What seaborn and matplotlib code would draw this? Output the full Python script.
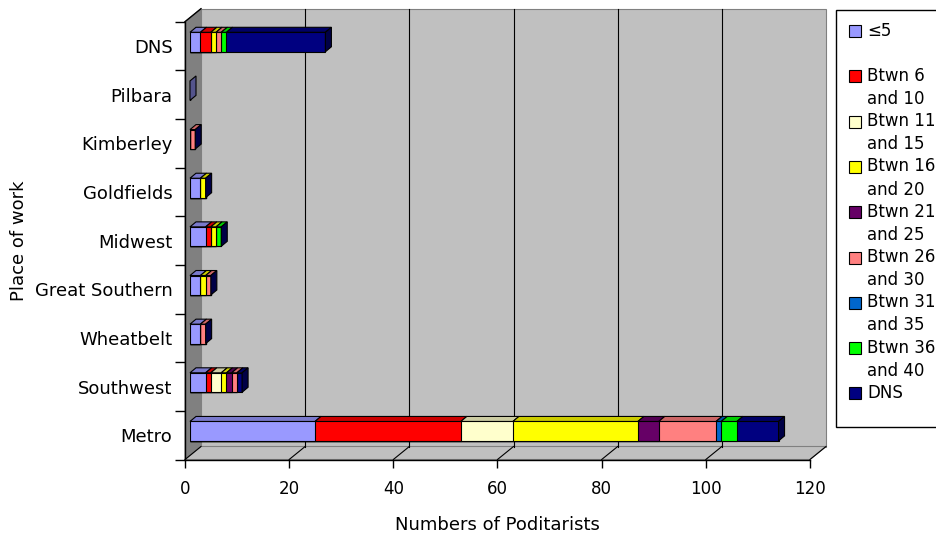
import numpy as np
import pandas as pd
import matplotlib
matplotlib.use("Agg")
import matplotlib.pyplot as plt
import seaborn as sns
from matplotlib.patches import Polygon, Rectangle
from matplotlib.transforms import IdentityTransform
from matplotlib.colors import to_rgb

# ---------------- data ----------------
places = ["DNS", "Pilbara", "Kimberley", "Goldfields", "Midwest",
          "Great Southern", "Wheatbelt", "Southwest", "Metro"]
series = ["≤5", "Btwn 6\nand 10", "Btwn 11\nand 15", "Btwn 16\nand 20",
          "Btwn 21\nand 25", "Btwn 26\nand 30", "Btwn 31\nand 35",
          "Btwn 36\nand 40", "DNS"]
le5    = [2, 0, 0, 2, 3, 2, 2, 3, 24]
b6_10  = [2, 0, 0, 0, 1, 0, 0, 1, 28]
b11_15 = [0, 0, 0, 0, 0, 0, 0, 2, 10]
b16_20 = [1, 0, 0, 1, 1, 1, 0, 1, 24]
b21_25 = [0, 0, 0, 0, 0, 0, 0, 1, 4]
b26_30 = [1, 0, 1, 0, 0, 1, 1, 1, 11]
b31_35 = [0, 0, 0, 0, 0, 0, 0, 0, 1]
b36_40 = [1, 0, 0, 0, 1, 0, 0, 0, 3]
dns    = [19, 0, 0, 0, 0, 0, 0, 1, 8]
colors = ["#9999FF", "#FF0000", "#FFFFCC", "#FFFF00", "#660066",
          "#FF8080", "#0066CC", "#00FF00", "#000080"]
xticks = [0, 20, 40, 60, 80, 100, 120]

vals = np.array([le5, b6_10, b11_15, b16_20, b21_25, b26_30, b31_35, b36_40, dns], dtype=float)
cum = np.cumsum(vals, axis=0)

plt.rcParams["font.family"] = ["DejaVu Sans"]
FS = 12
FSL = 13
W, H = 936, 537
fig = plt.figure(figsize=(W / 100, H / 100), dpi=100)
ID = IdentityTransform()

def disp(x, y):  # pixel (top-left origin) -> display
    return (x, H - y)

def shade(c, f):
    return tuple(np.array(to_rgb(c)) * f)

# front plane axes (axis lines, ticks, labels, walls)
FL, FR, FT, FB = 185, 810, 21.7, 459.5
axf = fig.add_axes([FL / W, (H - FB) / H, (FR - FL) / W, (FB - FT) / H])
axf.set_xlim(0, 120)
axf.set_ylim(8.5, -0.5)
axf.patch.set_visible(False)
for s in ["top", "right"]:
    axf.spines[s].set_visible(False)
for s in ["left", "bottom"]:
    axf.spines[s].set_linewidth(1)
    axf.spines[s].set_color("black")
axf.set_xticks(xticks, labels=[str(t) for t in xticks], fontsize=FS)
axf.set_yticks(np.arange(-0.5, 9, 1), labels=[])
axf.set_yticks(np.arange(len(places)), labels=places, minor=True, fontsize=FSL)
axf.tick_params(axis="x", direction="out", length=6, width=1, pad=9, colors="black")
axf.tick_params(axis="y", which="major", direction="out", length=7, width=1)
axf.tick_params(axis="y", which="minor", length=0, pad=9)
axf.set_xlabel("Numbers of Poditarists", fontsize=FSL)
axf.set_ylabel("Place of work", fontsize=FSL)
axf.xaxis.set_label_coords(0.5, -0.128)
axf.yaxis.set_label_coords(-0.252, 0.5)

# walls (3-D box) built from the front-plane axis corners
DW = np.array([16, 13])  # wall depth in display px
tl = np.array(axf.transData.transform((0, -0.5)))
bl = np.array(axf.transData.transform((0, 8.5)))
br = np.array(axf.transData.transform((120, 8.5)))
tr = np.array(axf.transData.transform((120, -0.5)))
back = Polygon([tl + DW, tr + DW, br + DW, bl + DW], closed=True, transform=ID,
               facecolor="#C0C0C0", edgecolor="#808080", lw=0.8, zorder=0, clip_on=False)
side = Polygon([tl, tl + DW, bl + DW, bl], closed=True, transform=ID,
               facecolor="#808080", edgecolor="#808080", lw=0.8, zorder=0.1, clip_on=False)
floor = Polygon([bl, bl + DW, br + DW, br], closed=True, transform=ID,
                facecolor="#C0C0C0", edgecolor="#808080", lw=0.8, zorder=0.1, clip_on=False)
for p in (back, side, floor):
    axf.add_patch(p)
axf.add_line(plt.Line2D([tl[0], tl[0] + DW[0]], [tl[1], tl[1] + DW[1]], transform=ID,
                        color="black", lw=1, zorder=0.3, clip_on=False))
for t in xticks:
    f = np.array(axf.transData.transform((t, 8.5)))
    b = f + DW
    axf.add_line(plt.Line2D([f[0], b[0]], [f[1], b[1]], transform=ID, color="black",
                            lw=0.8, zorder=0.3, clip_on=False))
    if 0 < t < 120:
        top = np.array(axf.transData.transform((t, -0.5))) + DW
        axf.add_line(plt.Line2D([b[0], top[0]], [b[1], top[1]], transform=ID,
                                color="black", lw=0.8, zorder=0.3, clip_on=False))

# bar plane axes (shifted into the box)
OFF = (5, 4)
ax = fig.add_axes([(FL + OFF[0]) / W, (H - FB + OFF[1]) / H, (FR - FL) / W, (FB - FT) / H])
for k in reversed(range(len(series))):
    sns.barplot(x=cum[k], y=places, order=places, orient="h", color=colors[k],
                saturation=1, width=0.4, edgecolor="black", linewidth=0.8, ax=ax)
ax.set_xlim(0, 120)
ax.set_ylim(8.5, -0.5)
ax.set_axis_off()

# 3-D faces of the bars
DB = np.array([6, 5])
for i in range(len(places)):
    start = 0.0
    for k in range(len(series)):
        w = vals[k][i]
        if w > 0:
            p0 = np.array(ax.transData.transform((start, i - 0.2)))
            p1 = np.array(ax.transData.transform((start + w, i - 0.2)))
            ax.add_patch(Polygon([p0, p1, p1 + DB, p0 + DB], closed=True, transform=ID,
                                 facecolor=shade(colors[k], 0.8), edgecolor="black",
                                 lw=0.8, zorder=3, clip_on=False))
        start += w
    total = cum[-1][i]
    sc = colors[-1] if total > 0 else colors[0]
    q0 = np.array(ax.transData.transform((total, i - 0.2)))
    q1 = np.array(ax.transData.transform((total, i + 0.2)))
    ax.add_patch(Polygon([q0, q1, q1 + DB, q0 + DB], closed=True, transform=ID,
                         facecolor=shade(sc, 0.55), edgecolor="black",
                         lw=0.8, zorder=3, clip_on=False))

# legend (Excel style, two lines per entry)
fig.add_artist(Rectangle(disp(836, 427), 120, 417, transform=ID, facecolor="white",
                         edgecolor="black", lw=1, zorder=5))
for k, (lab, c) in enumerate(zip(series, colors)):
    yc = 31 + 45.3 * k
    fig.add_artist(Rectangle(disp(849, yc + 6), 12, 12, transform=ID, facecolor=c,
                             edgecolor="black", lw=0.8, zorder=6))
    fig.text(867 / W, 1 - (yc - 9.5) / H, lab, fontsize=FS, va="top", ha="left",
             linespacing=1.37, zorder=6)

fig.savefig("out.png", dpi=100)
